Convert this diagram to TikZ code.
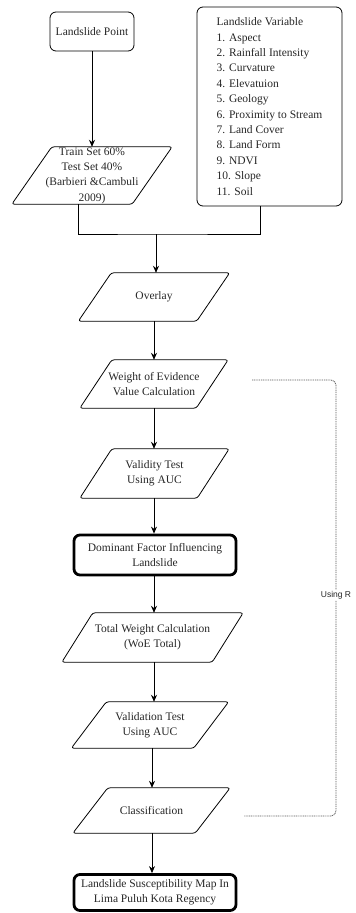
\documentclass[tikz,border=0pt]{standalone}
\usepackage{fontspec}
\setmainfont{Liberation Serif}
\newfontfamily\labelsans{Liberation Sans}
\usetikzlibrary{arrows.meta}
\tikzset{
  base/.style={inner sep=0pt, align=center, font=\fontsize{11.5}{15.4}\selectfont, text=black!85},
  roundbox/.style={base, draw, rounded corners=6pt, line width=0.8pt},
  thickbox/.style={base, draw, rounded corners=6pt, line width=2.8pt},
  parabox/.style={base},
  arr/.style={line width=0.8pt, -{Stealth[length=7pt,width=6pt]}},
  plain/.style={line width=0.8pt},
  dotline/.style={draw=black!65, line width=0.8pt, dash pattern=on 1pt off 0.8pt, rounded corners=5pt}
}
\newcommand\para[2]{% node name, slant
  \draw[line width=0.8pt, rounded corners=2.5pt] (#1.south west) -- ([xshift=#2pt]#1.north west) -- (#1.north east) -- ([xshift=-#2pt]#1.south east) -- cycle;}
\begin{document}
\begin{tikzpicture}[x=1pt,y=-1pt]
\useasboundingbox (0,0) rectangle (356,913);
% nodes
\node[roundbox, minimum width=84pt, minimum height=39pt] (lp) at (92,31.5) {Landslide Point};
\node[roundbox, minimum width=145pt, minimum height=199pt, align=left] (var) at (269.5,106.5)
 {Landslide Variable\\1. Aspect\\2. Rainfall Intensity\\3. Curvature\\4. Elevatuion\\5. Geology\\6. Proximity to Stream\\7. Land Cover\\8. Land Form\\9. NDVI\\10. Slope\\11. Soil};
\node[parabox, minimum width=160pt, minimum height=57pt] (train) at (92,175.5)
 {Train Set 60\%\\Test Set 40\%\\(Barbieri \&Cambuli\\2009)};
\para{train}{40}
\node[parabox, minimum width=151pt, minimum height=48pt] (ov) at (154,297) {Overlay};
\para{ov}{33}
\node[parabox, minimum width=148pt, minimum height=48pt] (woe) at (154,384) {Weight of Evidence\\Value Calculation};
\para{woe}{32}
\node[parabox, minimum width=149pt, minimum height=49pt] (val) at (154.5,473.5) {Validity Test\\Using AUC};
\para{val}{32}
\node[thickbox, minimum width=162pt, minimum height=40pt] (dom) at (155,555) {Dominant Factor Influencing\\Landslide};
\node[parabox, minimum width=181pt, minimum height=49pt] (tot) at (152.5,637.5) {Total Weight Calculation\\(WoE Total)};
\para{tot}{31}
\node[parabox, minimum width=157pt, minimum height=46pt] (vt) at (150,725) {Validation Test\\Using AUC};
\para{vt}{35}
\node[parabox, minimum width=157pt, minimum height=45pt] (cls) at (151.5,810.5) {Classification};
\para{cls}{35}
\node[thickbox, minimum width=162pt, minimum height=36pt] (fin) at (155,892.5) {Landslide Susceptibility Map In\\Lima Puluh Kota Regency};
% connectors
\coordinate (join) at (156,234);
\draw[arr] (lp.south) -- (train.north);
\draw[plain] ([xshift=-14pt]train.south) |- (join) -| ([xshift=-9.5pt]var.south);
\draw[arr] (join) -- (join |- ov.north);
\draw[arr] (ov.south) -- (woe.north);
\draw[arr] (woe.south) -- (woe.south |- val.north);
\draw[arr] (val.south -| woe.south) -- (woe.south |- dom.north);
\draw[arr] (dom.south -| woe.south) -- (woe.south |- tot.north);
\draw[arr] (tot.south -| woe.south) -- (woe.south |- vt.north);
\draw[arr] (vt.south -| 152,0) -- (152,0 |- cls.north);
\draw[arr] (cls.south -| 152,0) -- (152,0 |- fin.north);
% Using R loop
\coordinate (us) at (252,380);
\coordinate (ue) at (244,816);
\draw[dotline] (us) -- (336,380) -- (336,816) -- (ue);
\node[fill=white, inner sep=1pt, font=\labelsans\fontsize{8.5}{10}\selectfont, text=black!85] (usingr) at (336,595) {Using R};
\end{tikzpicture}
\end{document}
